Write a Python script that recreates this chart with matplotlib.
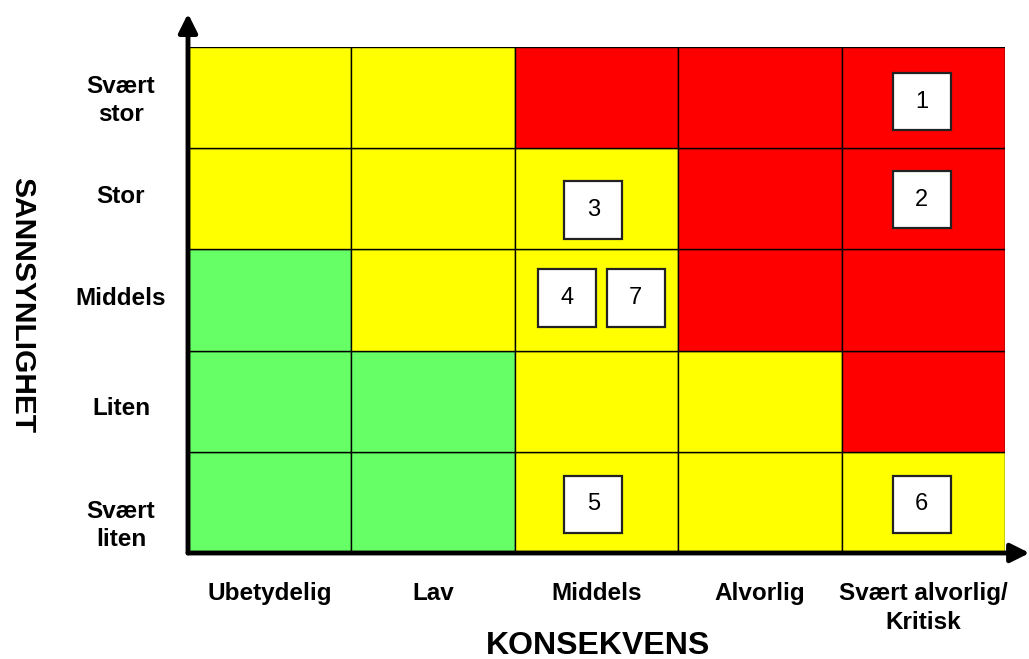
import matplotlib.pyplot as plt
from matplotlib.patches import Rectangle

plt.rcParams['font.family'] = ['Liberation Sans', 'DejaVu Sans']

konsekvens = ["Ubetydelig", "Lav", "Middels", "Alvorlig", "Svært alvorlig/\nKritisk"]
sannsynlighet = ["Svært\nliten", "Liten", "Middels", "Stor", "Svært\nstor"]  # bottom to top
sannsynlighet_y = [0.27, 1.43, 2.51, 3.52, 4.47]  # label centres as placed in the original

# cell colour codes, rows bottom to top
farger = [
    ["G", "G", "Y", "Y", "Y"],
    ["G", "G", "Y", "Y", "R"],
    ["G", "Y", "Y", "R", "R"],
    ["Y", "Y", "Y", "R", "R"],
    ["Y", "Y", "R", "R", "R"],
]
fargekart = {"G": "#66ff66", "Y": "#ffff00", "R": "#ff0000"}

# numbered risks: label, x centre, y centre (in cell units)
risiko_nr = ["1", "2", "3", "4", "7", "5", "6"]
risiko_x = [4.49, 4.49, 2.48, 2.32, 2.74, 2.48, 4.49]
risiko_y = [4.46, 3.49, 3.39, 2.52, 2.52, 0.48, 0.48]

fig = plt.figure(figsize=(10.29, 6.59), dpi=100)
ax = fig.add_axes([188/1029, 106/659, 817/1029, 506/659])
ax.set_xlim(0, 5)
ax.set_ylim(0, 5)
ax.axis("off")

for r in range(5):
    for c in range(5):
        ax.add_patch(Rectangle((c, r), 1, 1, facecolor=fargekart[farger[r][c]],
                               edgecolor="black", lw=1))

bw, bh = 0.355, 0.565
for nr, x, y in zip(risiko_nr, risiko_x, risiko_y):
    ax.add_patch(Rectangle((x - bw/2, y - bh/2), bw, bh, facecolor="white",
                           edgecolor="#222222", lw=1.6, zorder=3))
    ax.text(x, y, nr, ha="center", va="center", fontsize=17, zorder=4)

# axis arrows
ax.annotate("", xy=(0, 5.33), xytext=(0, 0), annotation_clip=False,
            arrowprops=dict(arrowstyle="-|>", lw=3.5, color="black",
                            mutation_scale=28, shrinkA=0, shrinkB=0))
ax.annotate("", xy=(5.15, 0), xytext=(0, 0), annotation_clip=False,
            arrowprops=dict(arrowstyle="-|>", lw=3.5, color="black",
                            mutation_scale=28, shrinkA=0, shrinkB=0))

for lab, y in zip(sannsynlighet, sannsynlighet_y):
    ax.text(-0.41, y, lab, ha="center", va="center", fontsize=17.5,
            fontweight="bold", linespacing=1.3)

for i, lab in enumerate(konsekvens):
    ax.text(i + 0.5, -0.29, lab, ha="center", va="top", fontsize=17.5,
            fontweight="bold", linespacing=1.3)

fig.text(598/1029, 1 - 646/659, "KONSEKVENS", ha="center", va="center",
         fontsize=23, fontweight="bold")
fig.text(22/1029, 1 - 305/659, "SANNSYNLIGHET", ha="center", va="center",
         fontsize=21.5, fontweight="bold", rotation=-90)

fig.savefig("out.png", dpi=100)
